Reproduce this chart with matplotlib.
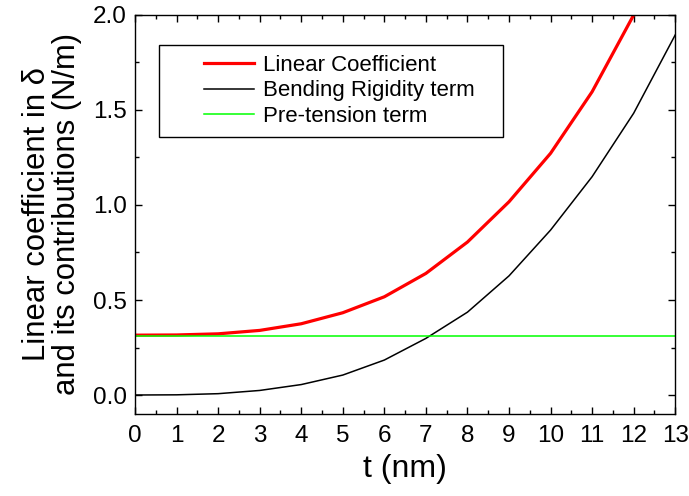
import numpy as np
import matplotlib.pyplot as plt
from matplotlib.legend_handler import HandlerLine2D
from matplotlib.ticker import MultipleLocator

plt.rcParams['font.family'] = ['Liberation Sans', 'DejaVu Sans']

# thickness t (nm)
t = [0, 1, 2, 3, 4, 5, 6, 7, 8, 9, 10, 11, 12, 13]

# linear coefficient and its two contributions (N/m)
linear_coef = [0.315, 0.316, 0.322, 0.340, 0.375, 0.433, 0.517, 0.640, 0.805,
               1.017, 1.272, 1.596, 2.000, 2.470]
bending = [0.0, 0.001, 0.007, 0.024, 0.055, 0.105, 0.184, 0.298, 0.436,
           0.627, 0.868, 1.149, 1.483, 1.895]
pretension = [0.313] * len(t)

fig = plt.figure(figsize=(6.89, 4.96), dpi=100)
ax = fig.add_axes([0.196, 0.1653, 0.784, 0.8045])

ax.plot(t, linear_coef, color='#ff0000', lw=2.3, label='Linear Coefficient')
ax.plot(t, bending, color='black', lw=1.1, label='Bending Rigidity term')
ax.plot(t, pretension, color='#00ff00', lw=1.1, label='Pre-tension term')

ax.set_xlim(0, 13)
ax.set_ylim(-0.1, 2.0)
ax.xaxis.set_major_locator(MultipleLocator(1))
ax.xaxis.set_minor_locator(MultipleLocator(0.5))
ax.yaxis.set_major_locator(MultipleLocator(0.5))
ax.yaxis.set_minor_locator(MultipleLocator(0.25))
ax.tick_params(which='both', direction='in', top=True, right=True,
               width=1.0, labelsize=17.5)
ax.tick_params(which='major', length=5, pad=6)
ax.tick_params(axis='x', which='major', pad=8)
ax.tick_params(which='minor', length=3)
for s in ax.spines.values():
    s.set_linewidth(1.0)

ax.set_xlabel('t (nm)', fontsize=23, labelpad=5)
ax.set_ylabel('Linear coefficient in δ\nand its contributions (N/m)',
              fontsize=22.3, labelpad=8, linespacing=1.0)

# single-column legend stretched to a fixed box width
hmap = {l: HandlerLine2D(xpad=1.6) for l in ax.get_lines()}
leg = ax.legend(loc='upper left', bbox_to_anchor=(0.044, 0.5, 0.637, 0.425),
                mode='expand', borderaxespad=0, fontsize=16,
                handlelength=3.85, handletextpad=0.4, labelspacing=0.2,
                borderpad=0.45, fancybox=False, edgecolor='black',
                framealpha=1, handler_map=hmap)
leg.get_frame().set_linewidth(1.0)

fig.savefig('out.png', dpi=100)
